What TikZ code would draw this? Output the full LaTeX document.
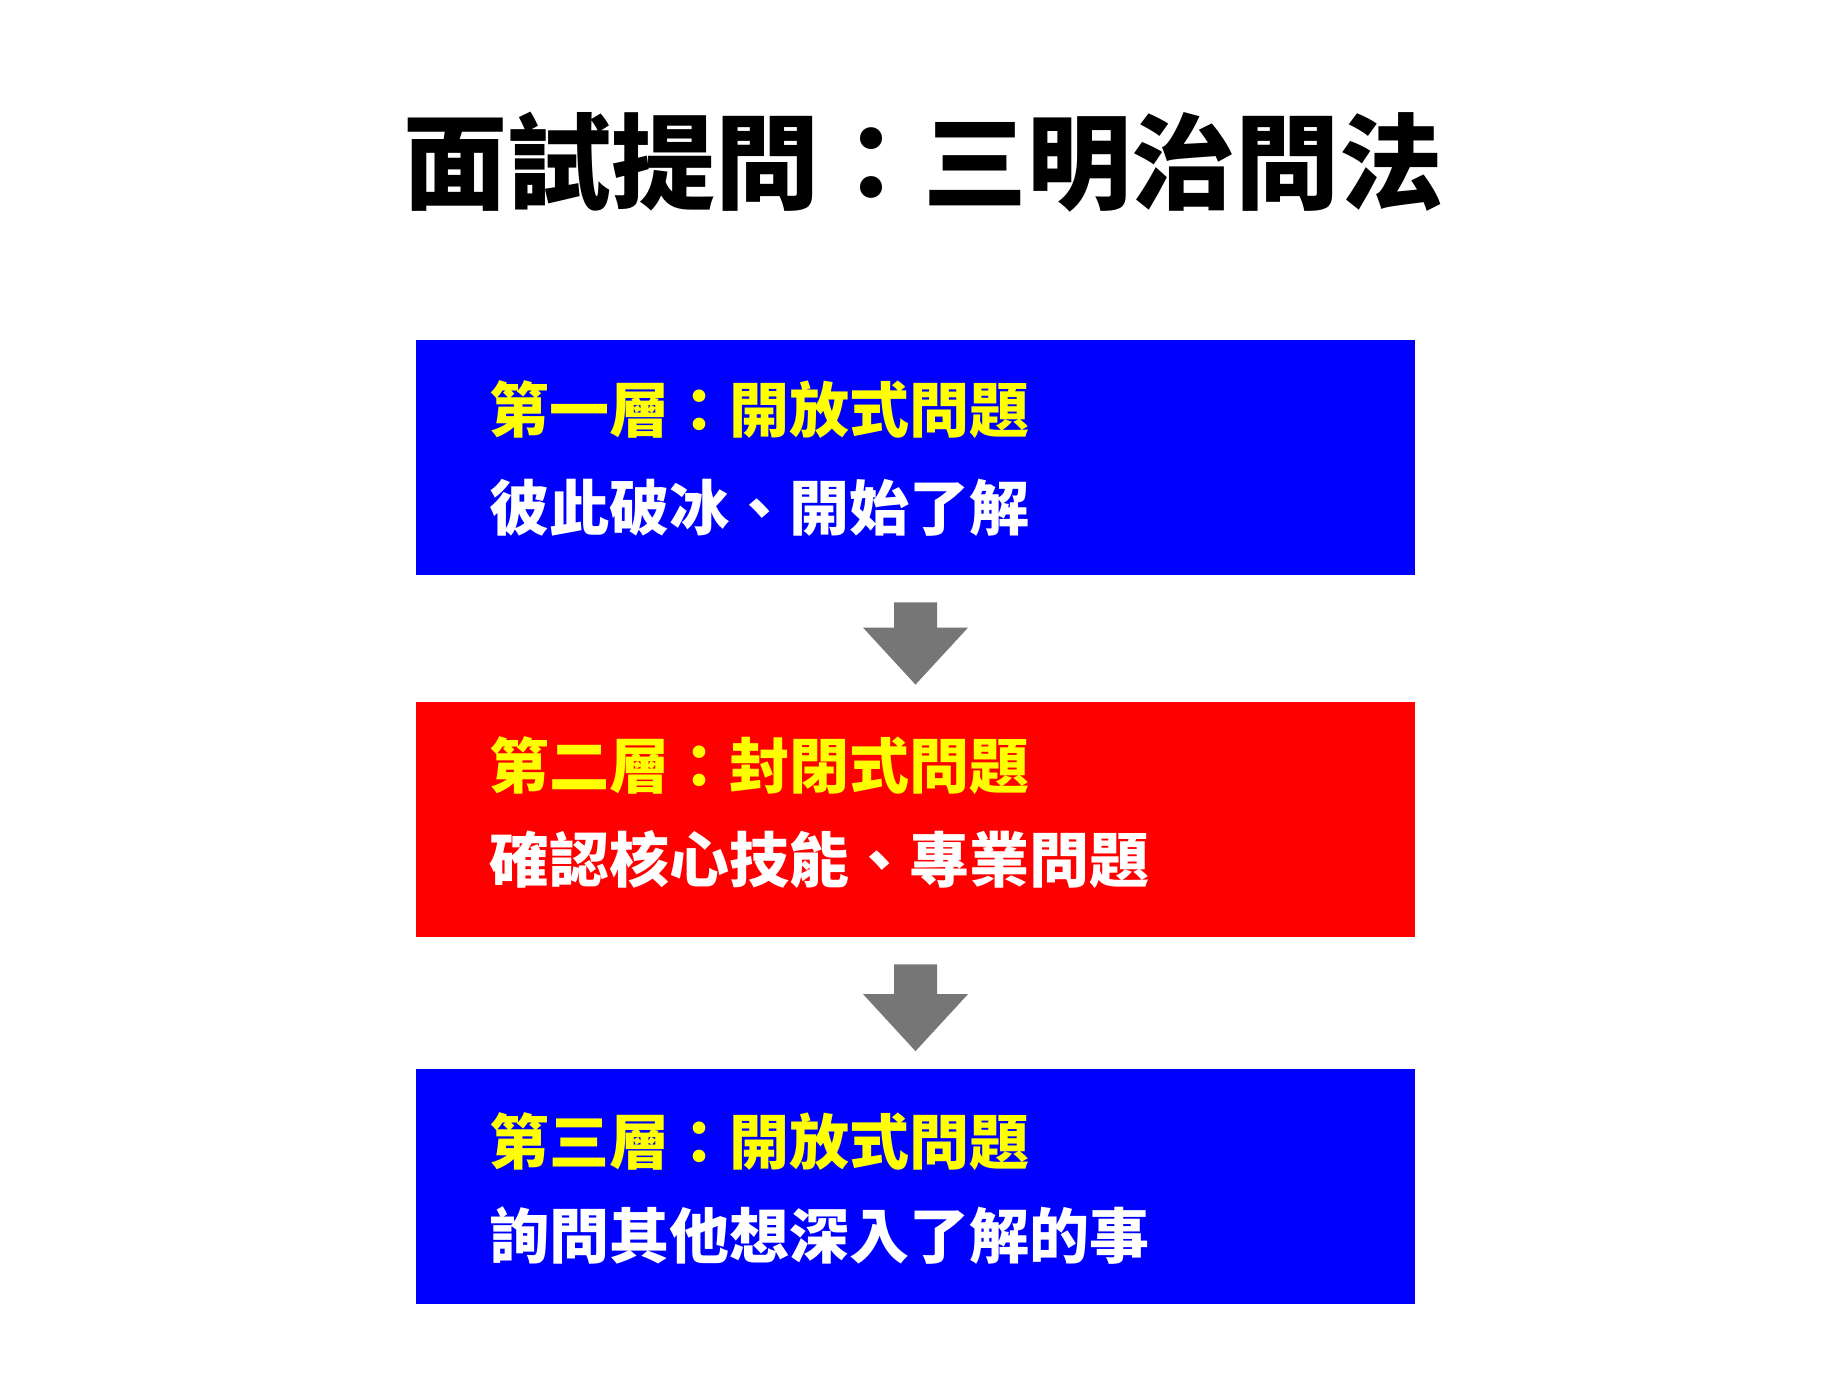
\documentclass[tikz,border=0pt]{standalone}
\usepackage{fontspec}
\newfontfamily\cjk{Noto Sans CJK TC}[BoldFont={Noto Sans CJK TC Black}]
\usetikzlibrary{calc}
\definecolor{boxblue}{RGB}{0,0,255}
\definecolor{boxred}{RGB}{255,0,0}
\definecolor{headyellow}{RGB}{255,255,0}
\definecolor{arrowgray}{RGB}{118,118,118}
\tikzset{
  layerbox/.style={minimum width=499.5pt, minimum height=117.5pt, inner sep=0pt, draw=none},
  headtext/.style={anchor=west, inner sep=0pt, text=headyellow, font=\cjk\bfseries\fontsize{30pt}{30pt}\selectfont},
  bodytext/.style={anchor=west, inner sep=0pt, text=white, font=\cjk\bfseries\fontsize{30pt}{30pt}\selectfont},
  titletext/.style={inner sep=0pt, text=black, font=\cjk\bfseries\fontsize{52pt}{52pt}\selectfont},
  blockarrow/.style={fill=arrowgray, draw=none}
}
\begin{document}
\begin{tikzpicture}[x=0.5pt,y=-0.5pt]
\useasboundingbox[fill=white] (0,0) rectangle (1840,1380);
\node[titletext] (title) at (923,162) {面試提問：三明治問法};
\node[layerbox, fill=boxblue] (b1) at (915.5,457.5) {};
\node[layerbox, fill=boxred] (b2) at (915.5,819.5) {};
\node[layerbox, fill=boxblue] (b3) at (915.5,1186) {};
\node[headtext] (h1) at (489,410) {第一層：開放式問題};
\node[bodytext] (t1) at (489,507.5) {彼此破冰、開始了解};
\node[headtext] (h2) at (489,766) {第二層：封閉式問題};
\node[bodytext] (t2) at (489,860) {確認核心技能、專業問題};
\node[headtext] (h3) at (489,1141.5) {第三層：開放式問題};
\node[bodytext] (t3) at (489,1235.5) {詢問其他想深入了解的事};
% arrows
\foreach \a/\b in {b1/b2,b2/b3}{
  \coordinate (s) at ($(\a.south)+(0,27)$);
  \coordinate (e) at ($(\b.north)+(0,-17)$);
  \fill[blockarrow] ($(s)+(-21.5,0)$) -- ($(s)+(21.5,0)$) -- ($(e)+(21.5,-57)$) -- ($(e)+(52.5,-57)$) -- (e) -- ($(e)+(-52.5,-57)$) -- ($(e)+(-21.5,-57)$) -- cycle;
}
\end{tikzpicture}
\end{document}
